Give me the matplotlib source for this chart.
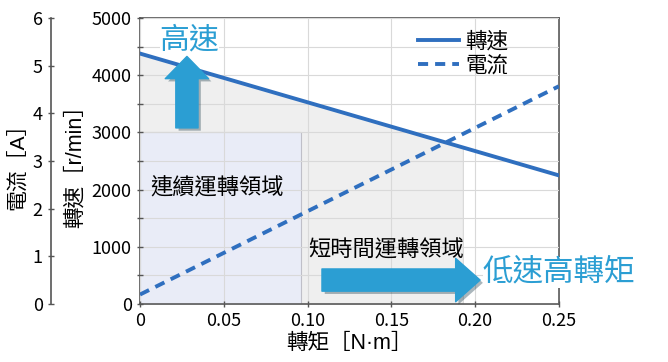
import numpy as np
import matplotlib.pyplot as plt
from matplotlib.patches import Rectangle, Polygon
import matplotlib.patheffects as pe

plt.rcParams['font.family'] = ['Liberation Sans Narrow', 'Noto Sans CJK TC', 'DejaVu Sans']

# data
torque = [0.0, 0.25]
speed = [4380, 2250]          # r/min
current = [0.2, 4.57]         # A
cont_torque, cont_speed = 0.096, 3000
short_torque_max = 0.193

xticks = [0, 0.05, 0.10, 0.15, 0.20, 0.25]
xtick_labels = ['0', '0.05', '0.10', '0.15', '0.20', '0.25']

line_c = '#2f6fbf'
accent = '#2b9ed3'
cjk = ['Noto Sans CJK TC', 'DejaVu Sans']
mixed = ['Liberation Sans', 'Noto Sans CJK TC', 'DejaVu Sans']

fig = plt.figure(figsize=(6.68, 3.62), dpi=100)
ax = fig.add_axes([0.2096, 0.160, 0.627, 0.790])
ax.set_xlim(0, 0.25)
ax.set_ylim(0, 5000)

# short-time region: under the speed line up to max torque
s_at = np.interp(short_torque_max, torque, speed)
ax.add_patch(Polygon([(0, 0), (0, speed[0]), (short_torque_max, s_at),
                      (short_torque_max, 0)], closed=True,
                     facecolor='#efefef', edgecolor='#d8d8d8', lw=0.8, zorder=0.5))
# continuous region
ax.add_patch(Rectangle((0, 0), cont_torque, cont_speed, facecolor='#e9ecf7',
                       edgecolor='#bfbfc8', lw=0.8, zorder=0.6))

ax.set_yticks(np.arange(0, 5001, 1000))
ax.set_yticks(np.arange(0, 5001, 500), minor=True)
ax.set_xticks(xticks)
ax.set_xticklabels(xtick_labels)
ax.grid(True, which='both', color='#d9d9d9', lw=0.8, zorder=0.7)
ax.set_axisbelow(False)
ax.tick_params(axis='both', which='both', direction='inout', colors='#555555',
               labelcolor='black', labelsize=13, length=5, width=1)
ax.tick_params(axis='y', which='minor', length=4)
for sp in ax.spines.values():
    sp.set_color('#555555')
    sp.set_linewidth(1.2)

l1, = ax.plot(torque, speed, color=line_c, lw=2.8, zorder=3, label='轉速')

ax2 = ax.twinx()
ax2.set_ylim(0, 6)
ax2.spines['right'].set_visible(False)
ax2.spines['top'].set_visible(False)
ax2.spines['bottom'].set_visible(False)
ax2.spines['left'].set_position(('axes', -0.2124))
ax2.spines['left'].set_color('#555555')
ax2.spines['left'].set_linewidth(1.2)
ax2.yaxis.set_ticks_position('left')
ax2.yaxis.set_label_position('left')
ax2.set_yticks(range(0, 7))
ax2.tick_params(axis='y', direction='inout', colors='#555555', labelcolor='black',
                labelsize=13, length=5, width=1)
l2, = ax2.plot(torque, current, color=line_c, lw=2.8, ls=(0, (2.6, 1.8)),
               zorder=3, label='電流')

ax.set_xlabel('轉矩［N·m］', fontsize=15.5, family=mixed, labelpad=2)
ax.set_ylabel('轉速［r/min］', fontsize=15.5, family=mixed, labelpad=4)
ax2.set_ylabel('電流［A］', fontsize=15, family=mixed, labelpad=4)

leg = ax2.legend(handles=[l1, l2], loc='upper right', bbox_to_anchor=(0.905, 0.995),
                 frameon=False, prop={'family': cjk, 'size': 15.5},
                 handlelength=1.9, handletextpad=0.3, labelspacing=0.1,
                 borderaxespad=0.1)

shadow = [pe.SimplePatchShadow(offset=(2, -2), alpha=0.35), pe.Normal()]

# up arrow "高速"
ax.annotate('', xy=(0.028, 4330), xytext=(0.028, 3080),
            arrowprops=dict(arrowstyle='simple,head_length=1.0,head_width=1.95,tail_width=1.0',
                            mutation_scale=16, color=accent, shrinkA=0, shrinkB=0,
                            path_effects=shadow), zorder=4)
ax.text(0.0295, 4620, '高速', color=accent, fontsize=21.5, family=cjk,
        ha='center', va='center', zorder=5,
        bbox=dict(facecolor='white', edgecolor='none', pad=0))

# right arrow "低速高轉矩"
ax.annotate('', xy=(0.203, 420), xytext=(0.1086, 420),
            arrowprops=dict(arrowstyle='simple,head_length=1.1,head_width=1.95,tail_width=1.0',
                            mutation_scale=16, color=accent, shrinkA=0, shrinkB=0,
                            path_effects=shadow), zorder=4)
ax.text(0.2045, 560, '低速高轉矩', color=accent, fontsize=22, family=cjk,
        ha='left', va='center', zorder=5, clip_on=False,
        bbox=dict(facecolor='white', edgecolor='none', pad=0))

ax.text(0.006, 2030, '連續運轉領域', fontsize=16, family=cjk, ha='left',
        va='center', zorder=5)
ax.text(0.1005, 940, '短時間運轉領域', fontsize=16, family=cjk, ha='left',
        va='center', zorder=5)

fig.savefig('out.png', dpi=100)
